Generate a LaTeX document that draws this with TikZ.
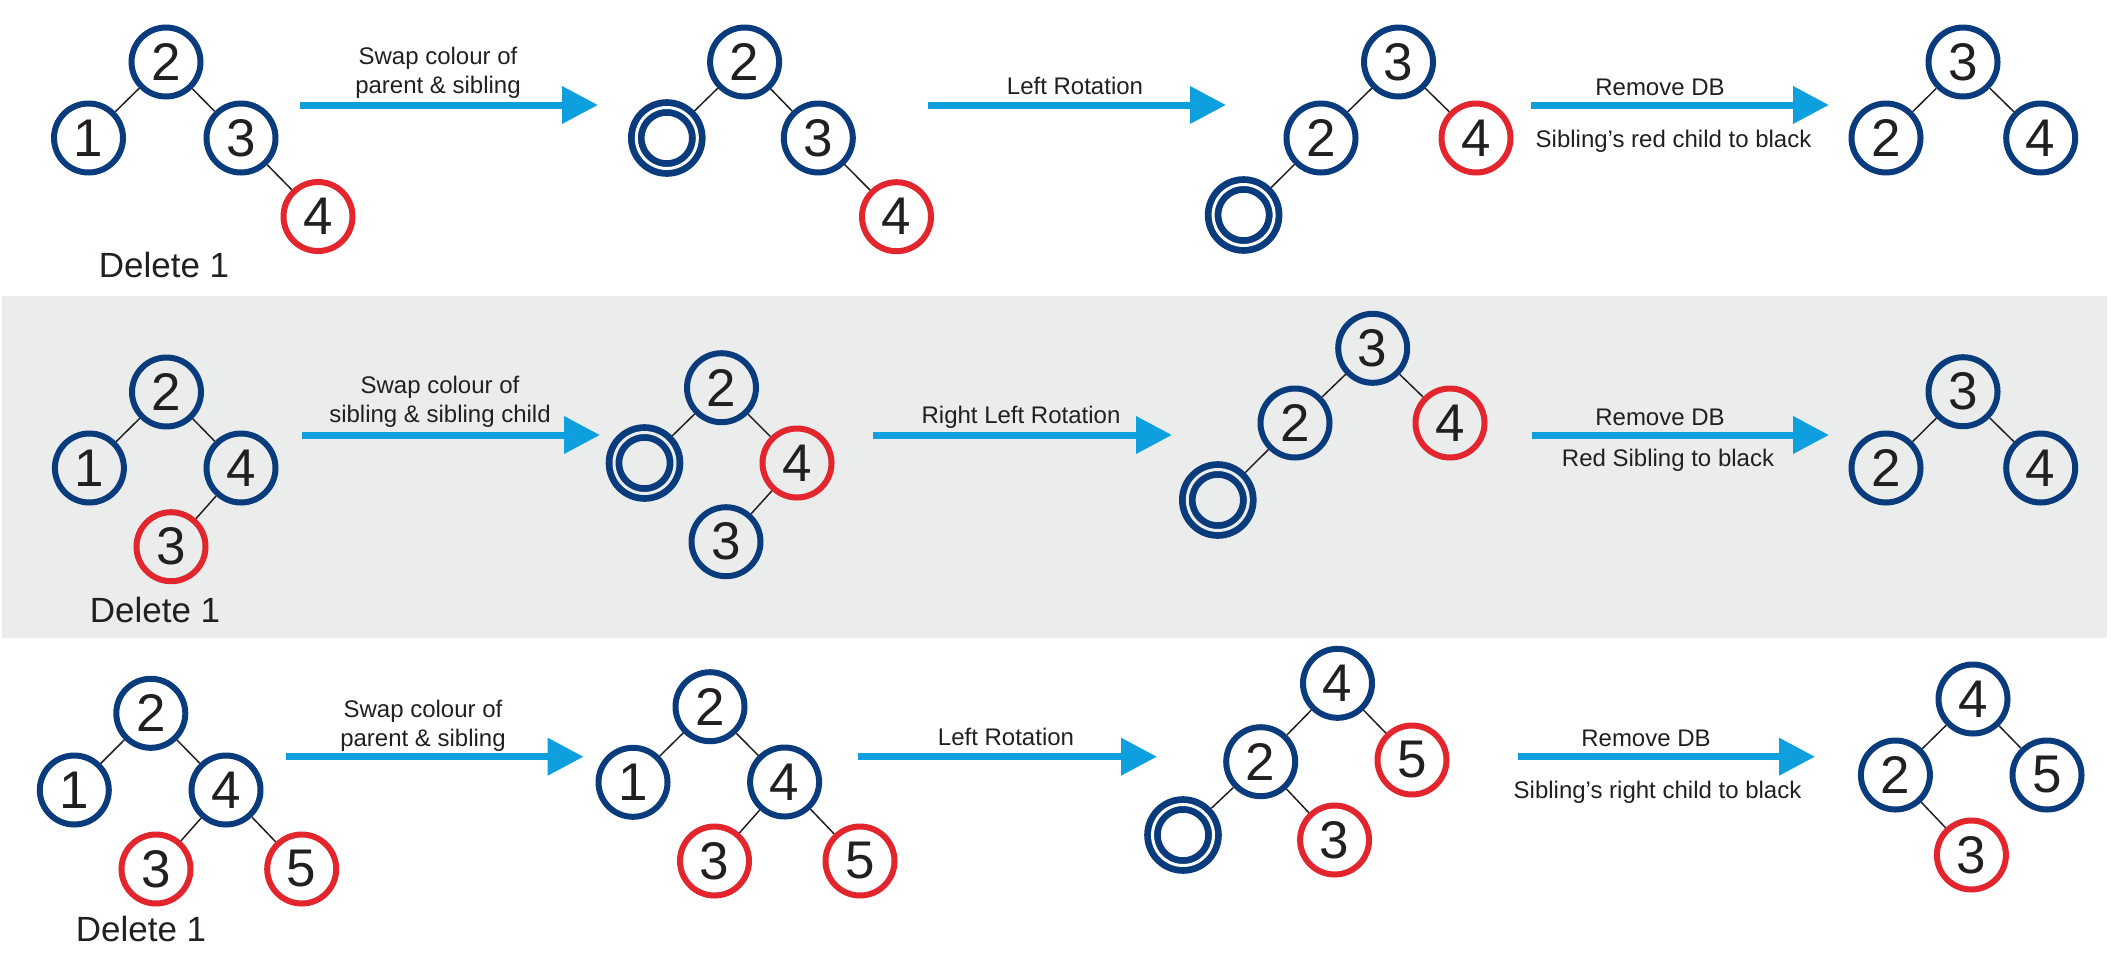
\documentclass[tikz,border=0pt]{standalone}
\usepackage{fontspec}
\setmainfont{Liberation Sans}
\usepackage{xcolor}
\usetikzlibrary{positioning, arrows.meta}

\definecolor{navy}{HTML}{0A3C7D}
\definecolor{keyred}{HTML}{E3262D}
\definecolor{flowblue}{HTML}{0EA0DE}
\definecolor{bandgrey}{HTML}{EBECEC}
\definecolor{ink}{HTML}{231F20}

\begin{document}
\begin{tikzpicture}[
    x=1pt, y=-1pt,
    key/.style={circle, draw=navy, line width=6pt, minimum size=69pt, inner sep=0pt, text=ink, font=\fontsize{53}{60}\selectfont},
    rkey/.style={key, draw=keyred},
    dbkey/.style={circle, draw=navy, line width=6.8pt, double=white, double distance=3pt, minimum size=61pt, inner sep=0pt, outer sep=8.3pt},
    edge/.style={draw=ink, line width=1.5pt},
    flow/.style={draw=flowblue, line width=7pt, -{Triangle[length=36pt, width=36pt]}},
    lbl/.style={anchor=base, text=ink, align=center, font=\fontsize{24}{29}\selectfont},
    caption/.style={anchor=base, text=ink, font=\fontsize{35}{40}\selectfont}
]
    \useasboundingbox (0,0) rectangle (2112,959);

    % Grey band behind the middle row
    \fill[bandgrey] (2,296) rectangle (2107,638);

    % Row 1 -- trees
    \node[key] (r1a2) at (166,62) {2};
    \node[key] (r1a1) at (88.5,138) {1};
    \node[key] (r1a3) at (241,138) {3};
    \node[rkey] (r1a4) at (318,216.5) {4};
    \node[caption] (r1del) at (164,277) {Delete 1};
    \draw[edge] (r1a2) -- (r1a1) (r1a2) -- (r1a3) (r1a3) -- (r1a4);

    \node[key] (r1b2) at (744.6,62) {2};
    \node[dbkey] (r1bdb) at (666.8,138) {};
    \node[key] (r1b3) at (818.3,138) {3};
    \node[rkey] (r1b4) at (896.5,216.7) {4};
    \draw[edge] (r1b2) -- (r1bdb) (r1b2) -- (r1b3) (r1b3) -- (r1b4);

    \node[key] (r1c3) at (1398.5,62) {3};
    \node[key] (r1c2) at (1321,138) {2};
    \node[rkey] (r1c4) at (1476,138) {4};
    \node[dbkey] (r1cdb) at (1243.6,215) {};
    \draw[edge] (r1c3) -- (r1c2) (r1c3) -- (r1c4) (r1c2) -- (r1cdb);

    \node[key] (r1d3) at (1963,62) {3};
    \node[key] (r1d2) at (1886,138) {2};
    \node[key] (r1d4) at (2040.7,138) {4};
    \draw[edge] (r1d3) -- (r1d2) (r1d3) -- (r1d4);

    % Row 1 -- steps
    \coordinate (r1s1) at (300,105);   \coordinate (r1e1) at (598,105);
    \coordinate (r1s2) at (927.5,105); \coordinate (r1e2) at (1226,105);
    \coordinate (r1s3) at (1531,105);  \coordinate (r1e3) at (1829,105);
    \draw[flow] (r1s1) -- (r1e1);
    \draw[flow] (r1s2) -- (r1e2);
    \draw[flow] (r1s3) -- (r1e3);
    \node[lbl] (r1l1) at (438,93) {Swap colour of\\parent \& sibling};
    \node[lbl] (r1l2) at (1075,94) {Left Rotation};
    \node[lbl] (r1l3) at (1660,95) {Remove DB};
    \node[lbl] (r1l4) at (1673.5,147) {Sibling's red child to black};

    % Row 2 -- trees
    \node[key] (r2a2) at (166.5,392) {2};
    \node[key] (r2a1) at (89.4,468) {1};
    \node[key] (r2a4) at (241,468) {4};
    \node[rkey] (r2a3) at (171,546.7) {3};
    \node[caption] (r2del) at (155,622) {Delete 1};
    \draw[edge] (r2a2) -- (r2a1) (r2a2) -- (r2a4) (r2a4) -- (r2a3);

    \node[key] (r2b2) at (721.5,387.7) {2};
    \node[dbkey, double=bandgrey] (r2bdb) at (644.5,463) {};
    \node[rkey] (r2b4) at (797,463) {4};
    \node[key] (r2b3) at (726,541.7) {3};
    \draw[edge] (r2b2) -- (r2bdb) (r2b2) -- (r2b4) (r2b4) -- (r2b3);

    \node[key] (r2c3) at (1372.7,348.3) {3};
    \node[key] (r2c2) at (1295,423) {2};
    \node[rkey] (r2c4) at (1450,423) {4};
    \node[dbkey, double=bandgrey] (r2cdb) at (1217.8,500) {};
    \draw[edge] (r2c3) -- (r2c2) (r2c3) -- (r2c4) (r2c2) -- (r2cdb);

    \node[key] (r2d3) at (1963,391.7) {3};
    \node[key] (r2d2) at (1886,468) {2};
    \node[key] (r2d4) at (2040.7,468) {4};
    \draw[edge] (r2d3) -- (r2d2) (r2d3) -- (r2d4);

    % Row 2 -- steps
    \coordinate (r2s1) at (302,435);   \coordinate (r2e1) at (600,435);
    \coordinate (r2s2) at (873,435);   \coordinate (r2e2) at (1172,435);
    \coordinate (r2s3) at (1532,435);  \coordinate (r2e3) at (1829,435);
    \draw[flow] (r2s1) -- (r2e1);
    \draw[flow] (r2s2) -- (r2e2);
    \draw[flow] (r2s3) -- (r2e3);
    \node[lbl] (r2l1) at (440,422) {Swap colour of\\sibling \& sibling child};
    \node[lbl] (r2l2) at (1021,423) {Right Left Rotation};
    \node[lbl] (r2l3) at (1660,425) {Remove DB};
    \node[lbl] (r2l4) at (1668,466) {Red Sibling to black};

    % Row 3 -- trees
    \node[key] (r3a2) at (150.8,713.3) {2};
    \node[key] (r3a1) at (74.3,790) {1};
    \node[key] (r3a4) at (226,790) {4};
    \node[rkey] (r3a3) at (156,869) {3};
    \node[rkey] (r3a5) at (301.7,869) {5};
    \node[caption] (r3del) at (141,941.7) {Delete 1};
    \draw[edge] (r3a2) -- (r3a1) (r3a2) -- (r3a4) (r3a4) -- (r3a3) (r3a4) -- (r3a5);

    \node[key] (r3b2) at (710,706.7) {2};
    \node[key] (r3b1) at (633,782.3) {1};
    \node[key] (r3b4) at (784.6,782) {4};
    \node[rkey] (r3b3) at (714.5,861) {3};
    \node[rkey] (r3b5) at (860,861) {5};
    \draw[edge] (r3b2) -- (r3b1) (r3b2) -- (r3b4) (r3b4) -- (r3b3) (r3b4) -- (r3b5);

    \node[key] (r3c4) at (1337.5,683.3) {4};
    \node[key] (r3c2) at (1260.7,761.7) {2};
    \node[rkey] (r3c5) at (1412,760) {5};
    \node[dbkey] (r3cdb) at (1183,835) {};
    \node[rkey] (r3c3) at (1334.6,840) {3};
    \draw[edge] (r3c4) -- (r3c2) (r3c4) -- (r3c5) (r3c2) -- (r3cdb) (r3c2) -- (r3c3);

    \node[key] (r3d4) at (1973,699) {4};
    \node[key] (r3d2) at (1895.4,775) {2};
    \node[key] (r3d5) at (2047,775) {5};
    \node[rkey] (r3d3) at (1971.4,855) {3};
    \draw[edge] (r3d4) -- (r3d2) (r3d4) -- (r3d5) (r3d2) -- (r3d3);

    % Row 3 -- steps
    \coordinate (r3s1) at (286,756.7);  \coordinate (r3e1) at (583.6,756.7);
    \coordinate (r3s2) at (858,756.7);  \coordinate (r3e2) at (1157,756.7);
    \coordinate (r3s3) at (1518,756.7); \coordinate (r3e3) at (1815,756.7);
    \draw[flow] (r3s1) -- (r3e1);
    \draw[flow] (r3s2) -- (r3e2);
    \draw[flow] (r3s3) -- (r3e3);
    \node[lbl] (r3l1) at (423,746) {Swap colour of\\parent \& sibling};
    \node[lbl] (r3l2) at (1006,745) {Left Rotation};
    \node[lbl] (r3l3) at (1646,746.7) {Remove DB};
    \node[lbl] (r3l4) at (1657.5,798) {Sibling's right child to black};
\end{tikzpicture}
\end{document}
